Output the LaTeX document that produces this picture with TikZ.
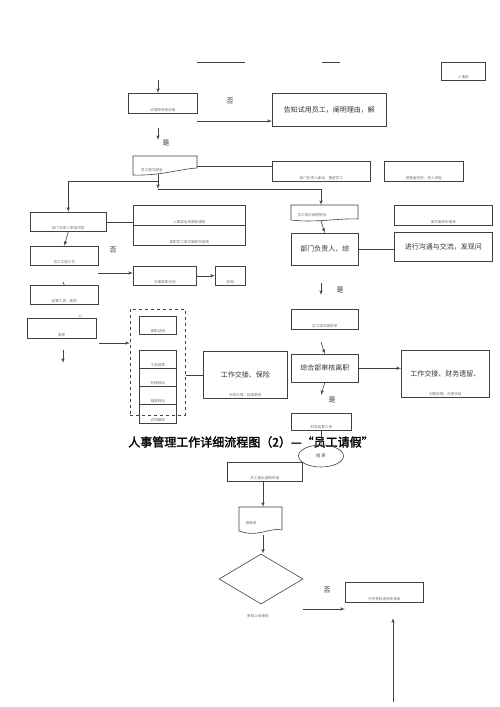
\documentclass[tikz,border=0pt]{standalone}
\usepackage{fontspec}
\setmainfont{Liberation Serif}
\newfontfamily\cjk[AutoFakeBold=2]{Noto Sans CJK SC}
\usetikzlibrary{arrows,shapes.geometric}

\begin{document}
\begin{tikzpicture}[x=1pt,y=-1pt,->,>=latex',color=black!75,line width=0.6pt,
    box/.style={draw,rectangle,anchor=north west,inner sep=2pt,text=black!80,
                font=\cjk\fontsize{7}{8}\selectfont},
    tinytxt/.style={font=\cjk\fontsize{3.6}{4}\selectfont,text=black!55},
    bot/.style={label={[tinytxt,anchor=south,inner sep=1.5pt]south:#1}},
    word/.style={font=\cjk\fontsize{7}{8}\selectfont,text=black!80}]
  \useasboundingbox[fill=white] (0,0) rectangle (500,707);

  % top of the page
  \draw[-] (197,62) -- (245,62);
  \draw[-] (322,62) -- (340,62);
  \node[box,minimum width=44,minimum height=18,bot={人事部}] (hr) at (441,62) {};

  % probation
  \coordinate (in0) at (158,80);
  \node[box,minimum width=69,minimum height=20,bot={试用期考核合格}] (trial) at (128,93) {};
  \draw (in0) -- (trial.north -| in0);
  \node[box,minimum width=114,minimum height=33] (dismiss) at (272,93) {告知试用员工，阐明理由，解};
  \node[word] (no1) at (230,101) {否};
  \coordinate (t1) at (197,121);
  \draw (t1) -- (t1 -| dismiss.west);
  \coordinate (y1a) at (158,128);
  \coordinate (y1b) at (158,140);
  \draw (y1a) -- (y1b);
  \node[word] (yes1) at (166,143) {是};

  % resignation report
  \draw[-] (133,175) -- (133,156) -- (197,156) -- (197,168)
    .. controls (180,169) and (160,176) .. (133,175);
  \node[tinytxt] (resign) at (152,170) {员工提交辞呈};
  \coordinate (resB) at (158,174);
  \coordinate (resR) at (197,166);
  \node[box,minimum width=98,minimum height=20,bot={部门负责人面谈，挽留员工}] (talk) at (272,161) {};
  \node[box,minimum width=79,minimum height=20,bot={若挽留无效，进入流程}] (fail) at (384,161) {};
  \draw[-] (resR) -- (resR -| talk.west);
  \coordinate (split) at (158,181);
  \coordinate (join) at (158,189);
  \draw (resB) -- (join);

  % left column
  \node[box,minimum width=76,minimum height=19,bot={部门负责人审批同意}] (agree) at (30,212) {};
  \draw (split) -| (agree.north);
  \node[box,minimum width=112,minimum height=20,bot={人事部出具离职通知}] (notice) at (133,205) {};
  \node[box,minimum width=112,minimum height=20,bot={离职员工填写离职申请表}] (form) at (133,225) {};
  \draw[-] (agree.east) -- (agree.east -| notice.west);
  \node[box,minimum width=68,minimum height=19,bot={员工交接工作}] (hand) at (30,246) {};
  \draw (agree.south) -- (hand.north);
  \node[word] (no2) at (113,250) {否};
  \node[box,minimum width=63,minimum height=19,bot={办理离职手续}] (proc) at (133,266) {};
  \node[box,minimum width=30,minimum height=19,bot={存档}] (file) at (215,266) {};
  \coordinate (h2) at (98,273);
  \draw (h2) -- (h2 -| proc.west);
  \draw (proc.east) -- (file.west);
  \node[box,minimum width=68,minimum height=19,bot={结算工资，离职}] (pay) at (30,285) {};
  \coordinate (tick) at (63,282);
  \draw[-] (tick) -- (pay.north);
  \node[box,minimum width=69,minimum height=20,bot={离职}] (leave) at (27,318) {};
  \node[tinytxt] (mark) at (80,316) {11};
  \coordinate (l1) at (99,343);
  \coordinate (d1) at (63,350);
  \coordinate (d2) at (63,363);
  \draw (d1) -- (d2);

  % package of papers
  \node[box,dashed,minimum width=55,minimum height=106] (pack) at (130,309) {};
  \draw (l1) -- (l1 -| pack.west);
  \node[box,minimum width=37,minimum height=18,bot={离职证明}] (cert) at (139,316) {};
  \node[box,minimum width=37,minimum height=18,bot={工资结算}] (p1) at (139,350) {};
  \node[box,minimum width=37,minimum height=18,bot={社保转出}] (p2) at (139,368) {};
  \node[box,minimum width=37,minimum height=18,bot={档案转出}] (p3) at (139,386) {};
  \node[box,minimum width=37,minimum height=19,bot={合同解除}] (p4) at (139,404) {};
  \node[box,minimum width=84,minimum height=47,bot={手续办理，结清薪资}] (insure) at (203,351) {工作交接、保险\\[6pt]};
  \draw[-] (insure.west -| pack.east) -- (insure.west);

  % right column
  \draw[-] (291,220) -- (291,205) -- (358,205) -- (358,219)
    .. controls (340,218) and (315,223) .. (291,220);
  \node[tinytxt] (report) at (312,215) {员工提交辞职报告};
  \coordinate (repB) at (321,221);
  \draw (join) -| (repB |- 0,205);
  \node[box,minimum width=98,minimum height=20,bot={填写离职申请表}] (apply) at (394,205) {};
  \node[box,minimum width=67,minimum height=32] (head) at (291,233) {部门负责人、综};
  \draw (repB) -- (head.north);
  \node[box,minimum width=98,minimum height=29] (commu) at (394,232) {进行沟通与交流，发现问};
  \draw[-] (head.east) -- (head.east -| commu.west);
  \coordinate (y2a) at (321,283);
  \coordinate (y2b) at (321,295);
  \draw (y2a) -- (y2b);
  \node[word] (yes2) at (340,290) {是};
  \node[box,minimum width=67,minimum height=20,bot={员工填写离职单}] (slip) at (291,309) {};
  \coordinate (s1) at (321,342);
  \node[box,minimum width=67,minimum height=28] (check) at (291,354) {综合部审核离职};
  \draw (s1) -- (check.north);
  \node[box,minimum width=88,minimum height=47,bot={问题处理，办理手续}] (finance) at (401,350) {工作交接、财务遗留、\\[6pt]};
  \draw (check.east) -- (check.east -| finance.west);
  \coordinate (y3) at (321,395);
  \draw (check.south) -- (y3);
  \node[word] (yes3) at (332,400) {是};
  \node[box,minimum width=60,minimum height=17,bot={财务结算工资}] (settle) at (291,413) {};

  % title
  \node[font=\cjk\bfseries\fontsize{12}{14}\selectfont,text=black] (title) at (251,442)
    {人事管理工作详细流程图（2）—“员工请假”};

  \node[draw,ellipse,minimum width=45,minimum height=22,inner sep=0,
        font=\cjk\fontsize{4.5}{5}\selectfont,text=black!70] (end) at (321,456) {结\,束};
  \draw (settle.south -| end) -- (end.north);

  % leave request
  \node[box,minimum width=75,minimum height=19,bot={员工提出请假申请}] (ask) at (227,462) {};
  \draw[-] (239,531) -- (239,507) -- (282,507) -- (282,530)
    .. controls (270,527) and (258,538) .. (239,531);
  \node[tinytxt] (sheet) at (251,523) {请假单};
  \coordinate (shtT) at (263,507);
  \coordinate (shtB) at (263,535);
  \draw (ask.south -| shtT) -- (shtT);
  \node[draw,diamond,aspect=1.68,minimum width=84,minimum height=50,inner sep=0] (judge) at (261,579) {};
  \draw (shtB) -- (judge.north -| shtB);
  \node[tinytxt] (judgetxt) at (258,616) {审核上级审核};
  \node[word] (no3) at (327,590) {否};
  \node[box,minimum width=78,minimum height=20,bot={不同意则退回申请单}] (back) at (345,582) {};
  \coordinate (j1) at (303,609);
  \draw (j1) -- (j1 -| back.west);
  \coordinate (u1) at (393,702);
  \coordinate (u2) at (393,618);
  \draw (u1) -- (u2);
\end{tikzpicture}
\end{document}
